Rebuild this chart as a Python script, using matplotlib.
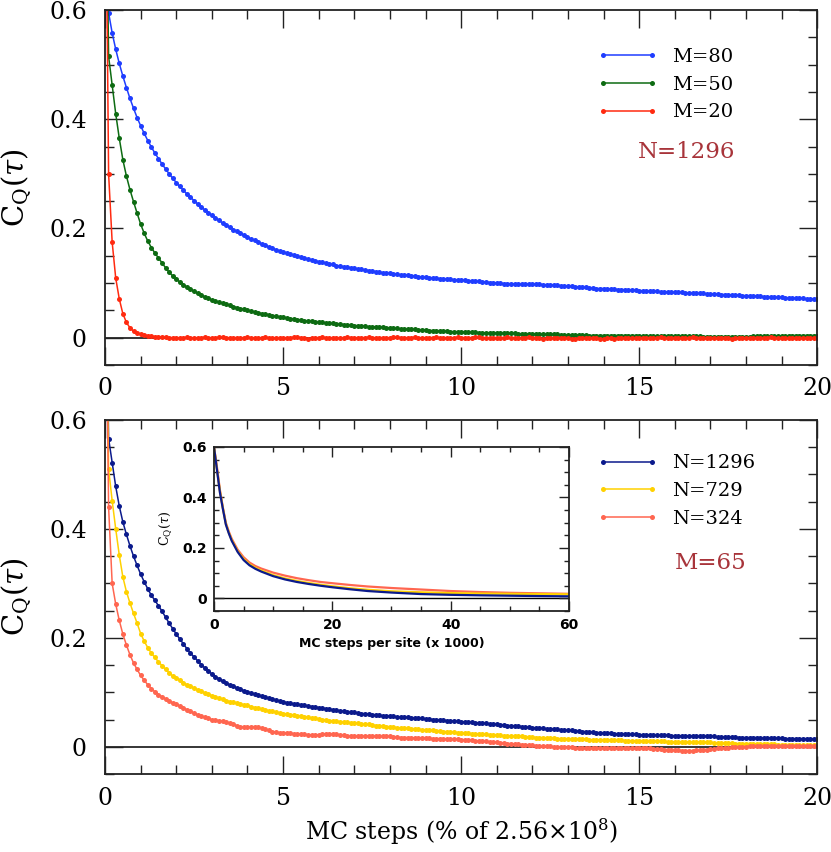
import numpy as np
import matplotlib
matplotlib.use('Agg')
import matplotlib.pyplot as plt
from matplotlib.ticker import MultipleLocator, FuncFormatter

plt.rcParams['font.family'] = ['DejaVu Serif']
plt.rcParams['mathtext.fontset'] = 'dejavuserif'

## Sampling: one point every 0.1 % of the run
steps = np.round(np.arange(201) * 0.1, 1)

## Top panel, N=1296, varying M
m80 = [
    1.000, 0.595, 0.558, 0.528, 0.502, 0.479, 0.458, 0.438, 0.420, 0.403,
    0.388, 0.374, 0.361, 0.349, 0.338, 0.328, 0.318, 0.309, 0.300, 0.292,
    0.284, 0.277, 0.270, 0.263, 0.257, 0.251, 0.245, 0.239, 0.234, 0.229,
    0.224, 0.219, 0.215, 0.210, 0.206, 0.202, 0.198, 0.195, 0.191, 0.188,
    0.184, 0.181, 0.178, 0.175, 0.172, 0.169, 0.166, 0.164, 0.161, 0.159,
    0.157, 0.155, 0.153, 0.151, 0.149, 0.147, 0.146, 0.144, 0.142, 0.141,
    0.139, 0.138, 0.136, 0.135, 0.134, 0.132, 0.131, 0.130, 0.129, 0.128,
    0.127, 0.126, 0.125, 0.124, 0.123, 0.122, 0.121, 0.120, 0.119, 0.118,
    0.118, 0.117, 0.116, 0.115, 0.115, 0.114, 0.113, 0.113, 0.112, 0.111,
    0.111, 0.110, 0.109, 0.109, 0.108, 0.108, 0.107, 0.107, 0.106, 0.106,
    0.105, 0.105, 0.104, 0.104, 0.103, 0.103, 0.102, 0.102, 0.101, 0.101,
    0.100, 0.100, 0.099, 0.099, 0.099, 0.098, 0.098, 0.098, 0.098, 0.098,
    0.098, 0.098, 0.098, 0.097, 0.097, 0.097, 0.096, 0.096, 0.095, 0.095,
    0.094, 0.094, 0.093, 0.093, 0.092, 0.092, 0.091, 0.091, 0.090, 0.090,
    0.090, 0.089, 0.089, 0.089, 0.088, 0.088, 0.088, 0.087, 0.087, 0.087,
    0.086, 0.086, 0.086, 0.085, 0.085, 0.085, 0.084, 0.084, 0.084, 0.083,
    0.083, 0.083, 0.083, 0.082, 0.082, 0.082, 0.081, 0.081, 0.081, 0.080,
    0.080, 0.080, 0.080, 0.079, 0.079, 0.079, 0.078, 0.078, 0.078, 0.077,
    0.077, 0.077, 0.076, 0.076, 0.076, 0.075, 0.075, 0.075, 0.074, 0.074,
    0.074, 0.073, 0.073, 0.073, 0.072, 0.072, 0.072, 0.071, 0.071, 0.071,
    0.070,
]
m50 = [
    1.000, 0.515, 0.462, 0.410, 0.365, 0.326, 0.296, 0.271, 0.249, 0.228,
    0.208, 0.191, 0.177, 0.165, 0.155, 0.146, 0.137, 0.128, 0.120, 0.113,
    0.107, 0.102, 0.097, 0.093, 0.089, 0.085, 0.081, 0.078, 0.075, 0.072,
    0.069, 0.067, 0.065, 0.063, 0.061, 0.059, 0.057, 0.055, 0.053, 0.052,
    0.050, 0.049, 0.047, 0.046, 0.044, 0.043, 0.042, 0.040, 0.039, 0.038,
    0.037, 0.036, 0.035, 0.034, 0.033, 0.032, 0.031, 0.030, 0.030, 0.029,
    0.028, 0.028, 0.027, 0.026, 0.026, 0.025, 0.025, 0.024, 0.023, 0.023,
    0.022, 0.022, 0.021, 0.021, 0.020, 0.020, 0.020, 0.019, 0.019, 0.018,
    0.018, 0.017, 0.017, 0.016, 0.016, 0.015, 0.015, 0.015, 0.014, 0.014,
    0.014, 0.013, 0.013, 0.013, 0.012, 0.012, 0.012, 0.011, 0.011, 0.011,
    0.011, 0.010, 0.010, 0.010, 0.010, 0.009, 0.009, 0.009, 0.009, 0.009,
    0.008, 0.008, 0.008, 0.008, 0.008, 0.008, 0.007, 0.007, 0.007, 0.007,
    0.007, 0.007, 0.006, 0.006, 0.006, 0.006, 0.006, 0.006, 0.005, 0.005,
    0.005, 0.005, 0.005, 0.005, 0.005, 0.005, 0.004, 0.004, 0.004, 0.004,
    0.004, 0.004, 0.004, 0.004, 0.004, 0.004, 0.004, 0.004, 0.004, 0.004,
    0.004, 0.003, 0.003, 0.003, 0.003, 0.003, 0.003, 0.003, 0.003, 0.003,
    0.003, 0.003, 0.003, 0.003, 0.003, 0.003, 0.003, 0.003, 0.002, 0.002,
    0.002, 0.002, 0.002, 0.002, 0.002, 0.002, 0.002, 0.002, 0.002, 0.002,
    0.002, 0.002, 0.003, 0.003, 0.003, 0.003, 0.003, 0.003, 0.003, 0.003,
    0.003, 0.003, 0.004, 0.004, 0.004, 0.004, 0.004, 0.004, 0.004, 0.004,
    0.004,
]
m20 = [
    1.000, 0.300, 0.175, 0.109, 0.071, 0.044, 0.028, 0.018, 0.012, 0.008,
    0.006, 0.005, 0.004, 0.003, 0.002, 0.002, 0.001, 0.001, 0.000, 0.000,
    0.000, -0.001, 0.000, 0.001, 0.000, -0.001, -0.001, 0.000, 0.001, 0.000,
    -0.001, 0.000, 0.001, 0.001, 0.000, -0.001, 0.000, 0.000, -0.001, 0.000,
    0.001, 0.000, -0.001, -0.001, 0.000, 0.001, 0.000, -0.001, 0.000, 0.000,
    0.000, -0.001, 0.000, 0.001, 0.001, 0.000, -0.001, -0.002, -0.001, 0.000,
    0.000, 0.001, 0.000, -0.001, 0.000, 0.000, -0.001, 0.000, 0.001, 0.000,
    -0.001, -0.001, 0.000, 0.000, 0.001, 0.000, -0.001, 0.000, 0.000, -0.001,
    0.000, 0.001, 0.001, 0.000, -0.001, 0.000, 0.000, 0.001, 0.000, -0.001,
    -0.001, 0.000, 0.000, 0.001, 0.000, 0.000, -0.001, -0.001, 0.000, 0.001,
    0.000, 0.000, -0.001, 0.000, 0.001, 0.001, 0.000, -0.001, 0.000, 0.000,
    -0.001, 0.000, 0.000, 0.001, 0.000, -0.001, -0.001, 0.000, 0.000, 0.001,
    0.000, 0.000, -0.001, -0.002, -0.001, 0.000, 0.000, -0.001, -0.001, 0.000,
    -0.001, -0.002, -0.002, -0.001, 0.000, -0.001, -0.001, 0.000, -0.001, -0.002,
    -0.002, -0.001, -0.001, -0.002, -0.001, 0.000, -0.001, -0.001, 0.000, -0.001,
    -0.001, 0.000, 0.000, -0.001, -0.001, 0.000, 0.001, 0.000, -0.001, -0.001,
    0.000, 0.000, -0.001, -0.001, 0.000, 0.001, 0.000, 0.000, -0.001, 0.000,
    0.000, -0.001, -0.001, 0.000, 0.000, -0.001, -0.002, -0.001, 0.000, 0.000,
    -0.001, -0.001, 0.000, 0.000, -0.001, -0.001, 0.000, 0.001, 0.000, -0.001,
    0.000, 0.000, -0.001, 0.000, 0.000, -0.001, -0.001, 0.000, 0.000, -0.001,
    -0.001,
]

## Bottom panel, M=65, varying N
n1296 = [
    1.000, 0.566, 0.522, 0.478, 0.442, 0.413, 0.390, 0.369, 0.350, 0.333,
    0.317, 0.303, 0.290, 0.278, 0.269, 0.259, 0.249, 0.238, 0.227, 0.217,
    0.207, 0.198, 0.189, 0.180, 0.172, 0.165, 0.158, 0.151, 0.145, 0.139,
    0.134, 0.129, 0.125, 0.121, 0.117, 0.114, 0.111, 0.108, 0.106, 0.103,
    0.101, 0.099, 0.097, 0.095, 0.093, 0.091, 0.089, 0.088, 0.086, 0.084,
    0.083, 0.081, 0.080, 0.079, 0.078, 0.077, 0.076, 0.075, 0.074, 0.073,
    0.072, 0.071, 0.070, 0.069, 0.068, 0.067, 0.066, 0.065, 0.064, 0.063,
    0.063, 0.062, 0.061, 0.061, 0.060, 0.059, 0.059, 0.058, 0.057, 0.057,
    0.056, 0.056, 0.055, 0.055, 0.054, 0.054, 0.053, 0.053, 0.052, 0.052,
    0.051, 0.051, 0.050, 0.050, 0.049, 0.049, 0.048, 0.048, 0.047, 0.047,
    0.046, 0.046, 0.045, 0.045, 0.044, 0.044, 0.043, 0.043, 0.042, 0.042,
    0.041, 0.040, 0.040, 0.039, 0.039, 0.038, 0.038, 0.037, 0.036, 0.036,
    0.035, 0.035, 0.034, 0.034, 0.033, 0.033, 0.032, 0.032, 0.031, 0.031,
    0.030, 0.030, 0.029, 0.029, 0.028, 0.028, 0.027, 0.027, 0.026, 0.026,
    0.025, 0.025, 0.025, 0.024, 0.024, 0.024, 0.023, 0.023, 0.023, 0.023,
    0.022, 0.022, 0.022, 0.022, 0.021, 0.021, 0.021, 0.021, 0.021, 0.020,
    0.020, 0.020, 0.020, 0.020, 0.020, 0.020, 0.019, 0.019, 0.019, 0.019,
    0.019, 0.019, 0.018, 0.018, 0.018, 0.018, 0.018, 0.018, 0.017, 0.017,
    0.017, 0.017, 0.017, 0.017, 0.016, 0.016, 0.016, 0.016, 0.016, 0.016,
    0.016, 0.015, 0.015, 0.015, 0.015, 0.015, 0.015, 0.015, 0.014, 0.014,
    0.014,
]
n729 = [
    1.000, 0.510, 0.452, 0.400, 0.352, 0.312, 0.285, 0.264, 0.245, 0.227,
    0.208, 0.194, 0.182, 0.172, 0.164, 0.156, 0.149, 0.142, 0.136, 0.130,
    0.126, 0.122, 0.118, 0.114, 0.111, 0.108, 0.105, 0.102, 0.099, 0.097,
    0.094, 0.092, 0.089, 0.087, 0.085, 0.083, 0.082, 0.080, 0.079, 0.077,
    0.076, 0.074, 0.072, 0.071, 0.069, 0.068, 0.066, 0.065, 0.064, 0.062,
    0.061, 0.060, 0.059, 0.058, 0.057, 0.056, 0.055, 0.054, 0.053, 0.052,
    0.051, 0.050, 0.049, 0.048, 0.048, 0.047, 0.046, 0.045, 0.045, 0.044,
    0.043, 0.043, 0.042, 0.041, 0.041, 0.040, 0.039, 0.039, 0.038, 0.037,
    0.037, 0.036, 0.035, 0.035, 0.034, 0.034, 0.033, 0.032, 0.032, 0.031,
    0.031, 0.030, 0.030, 0.029, 0.029, 0.028, 0.028, 0.027, 0.027, 0.026,
    0.026, 0.025, 0.025, 0.024, 0.024, 0.023, 0.023, 0.023, 0.022, 0.022,
    0.021, 0.021, 0.020, 0.020, 0.020, 0.019, 0.019, 0.019, 0.018, 0.018,
    0.018, 0.017, 0.017, 0.017, 0.016, 0.016, 0.016, 0.015, 0.015, 0.015,
    0.015, 0.014, 0.014, 0.014, 0.014, 0.014, 0.013, 0.013, 0.013, 0.013,
    0.013, 0.012, 0.012, 0.012, 0.012, 0.012, 0.011, 0.011, 0.011, 0.011,
    0.011, 0.011, 0.010, 0.010, 0.010, 0.010, 0.010, 0.010, 0.009, 0.009,
    0.009, 0.009, 0.009, 0.009, 0.009, 0.008, 0.008, 0.008, 0.008, 0.008,
    0.008, 0.007, 0.007, 0.007, 0.007, 0.007, 0.007, 0.006, 0.006, 0.006,
    0.006, 0.006, 0.006, 0.005, 0.005, 0.005, 0.005, 0.005, 0.005, 0.004,
    0.004, 0.004, 0.004, 0.004, 0.004, 0.003, 0.003, 0.003, 0.003, 0.003,
    0.003,
]
n324 = [
    1.000, 0.440, 0.300, 0.262, 0.232, 0.207, 0.187, 0.169, 0.154, 0.142,
    0.131, 0.122, 0.114, 0.107, 0.101, 0.096, 0.092, 0.088, 0.084, 0.081,
    0.078, 0.075, 0.072, 0.068, 0.065, 0.062, 0.059, 0.056, 0.054, 0.052,
    0.050, 0.049, 0.048, 0.047, 0.045, 0.043, 0.041, 0.039, 0.037, 0.036,
    0.036, 0.037, 0.037, 0.036, 0.034, 0.032, 0.030, 0.028, 0.027, 0.026,
    0.026, 0.025, 0.025, 0.024, 0.024, 0.023, 0.023, 0.022, 0.022, 0.022,
    0.022, 0.023, 0.024, 0.024, 0.024, 0.023, 0.022, 0.021, 0.020, 0.019,
    0.019, 0.019, 0.019, 0.020, 0.020, 0.020, 0.019, 0.019, 0.019, 0.019,
    0.019, 0.018, 0.018, 0.017, 0.017, 0.017, 0.017, 0.016, 0.016, 0.016,
    0.016, 0.016, 0.015, 0.015, 0.015, 0.015, 0.014, 0.014, 0.014, 0.014,
    0.013, 0.013, 0.012, 0.012, 0.011, 0.011, 0.010, 0.010, 0.009, 0.009,
    0.008, 0.007, 0.007, 0.006, 0.006, 0.005, 0.005, 0.004, 0.004, 0.003,
    0.003, 0.002, 0.002, 0.001, 0.001, 0.001, 0.000, 0.000, 0.000, -0.001,
    -0.001, -0.001, -0.002, -0.002, -0.002, -0.002, -0.002, -0.002, -0.002, -0.003,
    -0.003, -0.003, -0.003, -0.003, -0.003, -0.003, -0.003, -0.003, -0.003, -0.003,
    -0.003, -0.003, -0.003, -0.003, -0.004, -0.004, -0.004, -0.005, -0.005, -0.005,
    -0.006, -0.006, -0.007, -0.007, -0.007, -0.007, -0.006, -0.006, -0.005, -0.005,
    -0.004, -0.004, -0.003, -0.003, -0.002, -0.002, -0.001, -0.001, 0.000, 0.000,
    0.000, 0.001, 0.001, 0.001, 0.001, 0.002, 0.002, 0.002, 0.002, 0.002,
    0.002, 0.002, 0.002, 0.002, 0.002, 0.002, 0.002, 0.002, 0.002, 0.002,
    0.002,
]

## Inset: same runs against MC steps per site (x 1000)
inset_steps = [0, 0.5, 1, 1.5, 2, 2.5, 3, 4, 5, 6, 7, 8, 10, 12, 14, 16, 18,
               20, 23, 26, 30, 35, 40, 45, 50, 55, 60]
inset_n1296 = [0.600, 0.510, 0.420, 0.355, 0.293, 0.258, 0.228, 0.184, 0.152,
               0.131, 0.117, 0.106, 0.088, 0.075, 0.065, 0.057, 0.050, 0.044,
               0.036, 0.029, 0.023, 0.017, 0.014, 0.012, 0.0105, 0.009, 0.008]
inset_n729 = [0.600, 0.510, 0.425, 0.357, 0.296, 0.260, 0.231, 0.187, 0.156,
              0.135, 0.121, 0.110, 0.092, 0.079, 0.069, 0.061, 0.054, 0.048,
              0.040, 0.034, 0.028, 0.024, 0.021, 0.019, 0.018, 0.017, 0.016]
inset_n324 = [0.600, 0.520, 0.430, 0.360, 0.300, 0.265, 0.236, 0.193, 0.163,
              0.142, 0.128, 0.118, 0.102, 0.090, 0.080, 0.072, 0.065, 0.060,
              0.053, 0.047, 0.041, 0.035, 0.029, 0.025, 0.022, 0.020, 0.018]

top_series = [(m80, 'M=80', '#1f3dff'), (m50, 'M=50', '#0d6b12'),
              (m20, 'M=20', '#ff2a10')]
bottom_series = [(n1296, 'N=1296', '#0b1a8c'), (n729, 'N=729', '#ffd100'),
                 (n324, 'N=324', '#ff6650')]

FRAME = '#222222'
NOTE = '#a8343a'


def style_axes(ax, fs, major_len, minor_len, pad):
    for sp in ax.spines.values():
        sp.set_linewidth(1.3)
        sp.set_color(FRAME)
    ax.tick_params(which='both', direction='in', top=True, right=True,
                   color=FRAME, width=1.0, labelsize=fs, pad=pad)
    ax.tick_params(which='major', length=major_len)
    ax.tick_params(which='minor', length=minor_len)


fig = plt.figure(figsize=(8.31, 8.52), dpi=100)
ax_top = fig.add_axes([0.1264, 0.5716, 0.857, 0.4167])
ax_bot = fig.add_axes([0.1264, 0.0915, 0.857, 0.4155])

fmt = FuncFormatter(lambda v, p: '%g' % round(v, 2))

for ax, series, leg_y in [(ax_top, top_series, 0.915),
                          (ax_bot, bottom_series, 0.925)]:
    ax.axhline(0, color='black', lw=1.1, zorder=1.5)
    for vals, label, color in series:
        ax.plot(steps, vals, '-o', color=color, lw=1.1, ms=3.6, mew=0,
                label=label)
    ax.set_xlim(0, 20)
    ax.set_ylim(-0.05, 0.6)
    ax.xaxis.set_major_locator(MultipleLocator(5))
    ax.xaxis.set_minor_locator(MultipleLocator(1))
    ax.yaxis.set_major_locator(MultipleLocator(0.2))
    ax.yaxis.set_minor_locator(MultipleLocator(0.05))
    ax.yaxis.set_major_formatter(fmt)
    ax.xaxis.set_major_formatter(fmt)
    style_axes(ax, 17, 13, 6.5, 9)
    ax.tick_params(axis='y', which='major', pad=13)
    ax.set_ylabel(r'C$_{\rm Q}$($\tau$)', fontsize=21, labelpad=11)
    ax.legend(loc='upper left', bbox_to_anchor=(0.68, leg_y), frameon=False,
              numpoints=2, handlelength=3.1, fontsize=14, labelspacing=0.5,
              handletextpad=0.75, borderaxespad=0)

ax_top.text(0.885, 0.60, 'N=1296', transform=ax_top.transAxes, color=NOTE,
            fontsize=16.5, ha='right', va='center')
ax_bot.text(0.80, 0.596, 'M=65', transform=ax_bot.transAxes, color=NOTE,
            fontsize=16.5, ha='left', va='center')
ax_bot.set_xlabel(r'MC steps (% of 2.56$\times$10$^8$)', fontsize=17,
                  labelpad=5)

## Inset
ax_in = fig.add_axes([0.2575, 0.2829, 0.4272, 0.1925])
for vals, color in [(inset_n324, '#ff6650'), (inset_n729, '#ffd100'),
                    (inset_n1296, '#0b1a8c')]:
    ax_in.plot(inset_steps, vals, '-', color=color, lw=1.6)
ax_in.axhline(0, color='black', lw=1.0, zorder=1.5)
ax_in.set_xlim(0, 60)
ax_in.set_ylim(-0.05, 0.6)
ax_in.xaxis.set_major_locator(MultipleLocator(20))
ax_in.xaxis.set_minor_locator(MultipleLocator(5))
ax_in.yaxis.set_major_locator(MultipleLocator(0.2))
ax_in.yaxis.set_minor_locator(MultipleLocator(0.05))
ax_in.yaxis.set_major_formatter(fmt)
style_axes(ax_in, 10, 7, 3.5, 5)
for lab in ax_in.get_xticklabels() + ax_in.get_yticklabels():
    lab.set_family('DejaVu Sans')
    lab.set_weight('bold')
ax_in.set_xlabel('MC steps per site (x 1000)', fontsize=9,
                 family='DejaVu Sans', weight='bold', labelpad=4)
ax_in.set_ylabel(r'C$_{\rm Q}$($\tau$)', fontsize=9, labelpad=6)

fig.savefig('out.png', dpi=100)
